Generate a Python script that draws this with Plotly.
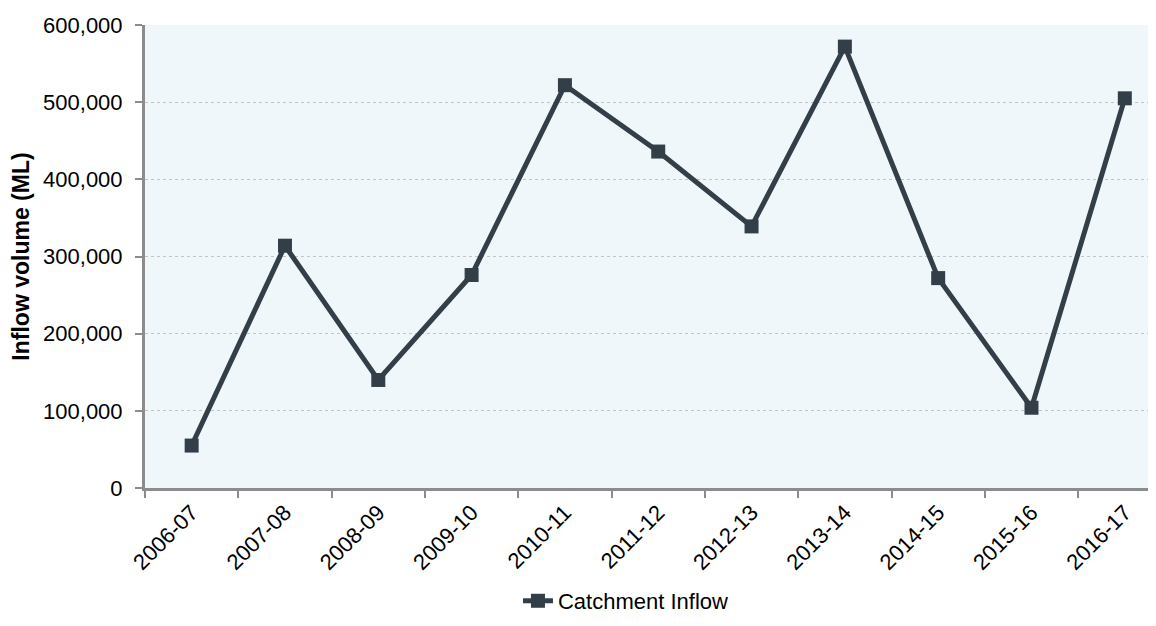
import plotly.graph_objects as go

years = ["2006-07", "2007-08", "2008-09", "2009-10", "2010-11", "2011-12",
         "2012-13", "2013-14", "2014-15", "2015-16", "2016-17"]
inflow = [55000, 314000, 140000, 276000, 522000, 436000,
          339000, 572000, 272000, 104000, 505000]
series_name = "Catchment Inflow"

FONT = "Liberation Sans, Arial, sans-serif"
LINE = "#333f48"

fig = go.Figure()
fig.add_trace(go.Scatter(
    x=years, y=inflow, name=series_name, mode="lines+markers",
    line=dict(color=LINE, width=5),
    marker=dict(symbol="square", size=14, color=LINE),
    showlegend=True,
))

fig.update_layout(
    width=1156, height=626,
    margin=dict(l=137, r=0, t=17, b=146),
    paper_bgcolor="white", plot_bgcolor="#f0f7fb",
    font=dict(family=FONT, size=22, color="black"),
    showlegend=True,
    legend=dict(orientation="h", x=0.472, xanchor="center", y=-0.244, yanchor="middle",
                font=dict(size=22), itemwidth=30),
    xaxis=dict(
        type="category", range=[-0.5, 10.42], tickson="boundaries",
        ticks="outside", ticklen=7, tickwidth=2, tickcolor="#8c8c8c",
        showline=True, linecolor="#8c8c8c", linewidth=3,
        showgrid=False, tickangle=-45, tickfont=dict(size=22),
    ),
    yaxis=dict(
        range=[0, 600000], dtick=100000, tickformat=",",
        ticks="outside", ticklen=7, tickwidth=2, tickcolor="#8c8c8c",
        showline=True, linecolor="#8c8c8c", linewidth=3,
        showgrid=True, gridcolor="#c4c4c4", gridwidth=1, griddash="dot",
        zeroline=False, tickfont=dict(size=22), ticklabelstandoff=8,
        title=dict(text="<b>Inflow volume (ML)</b>", font=dict(size=23), standoff=8),
    ),
)

fig.write_html("out.html")
